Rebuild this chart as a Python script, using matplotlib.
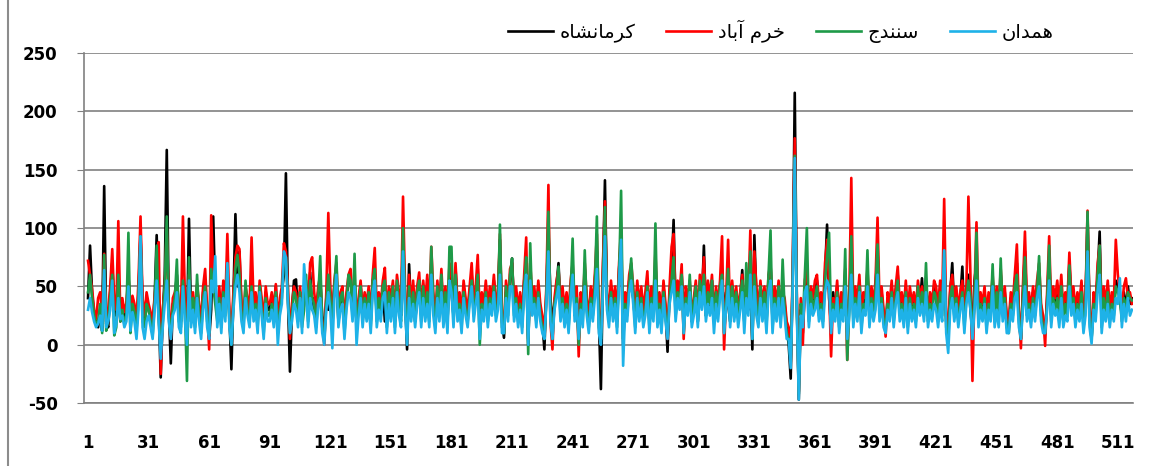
import matplotlib
matplotlib.use("Agg")
from matplotlib import pyplot as plt
from matplotlib.lines import Line2D

# legend labels, shaped by hand (Arabic presentation forms, visual order)
labels = {
    "kermanshah": "\uFEE9\uFE8E\uFEB8\uFEE7\uFE8E\uFEE3\uFEAE\uFEDB",   # کرمانشاه
    "khorramabad": "\uFEA9\uFE8E\uFE91\uFE81 \uFEE1\uFEAE\uFEA7",       # خرم آباد
    "sanandaj": "\uFE9D\uFEAA\uFEE8\uFEE8\uFEB3",                        # سنندج
    "hamedan": "\uFEE5\uFE8D\uFEAA\uFEE4\uFEEB",                         # همدان
}

x_ticks = list(range(1, 512, 30))
y_ticks = [-50, 0, 50, 100, 150, 200, 250]

kermanshah = [
    40, 85, 45, 25, 20, 15, 30, 12, 136, 20, 15, 45, 70, 30, 25, 50, 20, 35, 22, 30, 60, 25, 40, 30, 15, 45, 95, 35, 20, 40,
    30, 22, 15, 40, 94, 30, -28, 25, 60, 167, 30, -16, 35, 40, 60, 28, 20, 50, 35, 10, 108, 25, 40, 20, 50, 30, 15, 45, 55, 25,
    5, 30, 110, 45, 25, 40, 20, 50, 30, 60, 25, -21, 40, 112, 50, 80, 30, 20, 45, 35, 25, 60, 30, 40, 20, 50, 35, 15, 45, 30,
    30, 40, 25, 50, 15, 35, 45, 60, 147, 40, -23, 30, 55, 56, 25, 45, 20, 35, 50, 28, 62, 30, 40, 20, 45, 55, 25, 10, 40, 30,
    40, 25, 50, 60, 20, 35, 45, 15, 40, 55, 60, 30, 45, 20, 35, 50, 25, 40, 30, 45, 20, 55, 60, 25, 40, 30, 50, 20, 35, 45,
    30, 45, 20, 50, 35, 25, 90, 40, -4, 69, 30, 45, 20, 40, 55, 25, 45, 30, 50, 25, 70, 35, 20, 45, 30, 55, 25, 40, 20, 60,
    45, 25, 66, 30, 40, 20, 50, 35, 25, 45, 60, 30, 45, 65, 20, 40, 30, 50, 25, 45, 35, 55, 30, 40, 90, 20, 6, 45, 30, 55,
    74, 30, 45, 25, 40, 20, 55, 70, 0, 60, 35, 45, 25, 50, 30, 20, -4, 45, 100, 40, 20, 35, 50, 70, 30, 45, 25, 40, 20, 50,
    60, 30, 45, 5, 40, 25, 65, 35, 20, 45, 30, 55, 80, 20, -38, 60, 141, 40, 25, 50, 30, 45, 20, 65, 90, 0, 40, 30, 55, 50,
    40, 20, 50, 30, 45, 25, 35, 55, 20, 45, 30, 70, 25, 40, 20, 50, 30, -6, 45, 60, 107, 30, 50, 40, 60, 25, 45, 35, 50, 20,
    30, 45, 20, 50, 35, 85, 25, 45, 30, 55, 20, 40, 30, 50, 60, 25, 45, 35, 20, 50, 30, 45, 25, 40, 64, 20, 45, 30, 55, -4,
    94, 40, 25, 50, 30, 45, 20, 55, 70, 20, 45, 30, 50, 25, 40, 35, 15, 0, -29, 60, 216, 40, -47, 30, 10, 50, 60, 25, 45, 35,
    45, 55, 30, 40, 25, 60, 103, 40, 15, 45, 30, 50, 20, 40, 30, 60, 10, 35, 80, 25, 45, 30, 55, 20, 40, 35, 60, 25, 45, 30,
    50, 80, 30, 45, 25, 15, 40, 30, 50, 25, 45, 60, 30, 40, 25, 50, 20, 45, 30, 40, 25, 50, 35, 57, 30, 45, 25, 40, 30, 50,
    40, 25, 50, 30, 70, 20, 10, 45, 70, 30, 45, 25, 40, 67, 20, 45, 60, 30, 10, 55, 70, 25, 40, 30, 45, 20, 40, 30, 55, 25,
    40, 25, 60, 30, 45, 20, 15, 40, 30, 55, 70, 25, 5, 45, 80, 30, 40, 25, 45, 30, 50, 60, 30, 20, 10, 40, 75, 25, 45, 35,
    45, 30, 50, 25, 40, 30, 70, 35, 45, 25, 40, 30, 50, 20, 35, 110, 25, 5, 40, 30, 60, 97, 20, 45, 30, 50, 25, 40, 30, 55,
    50, 40, 25, 45, 30, 50, 35, 40,
]

khorramabad = [
    72, 60, 48, 30, 22, 40, 45, 28, 78, 18, 30, 50, 82, 35, 30, 106, 25, 40, 28, 36, 60, 30, 42, 35, 20, 55, 110, 40, 25, 45,
    35, 28, 20, 42, 60, 88, -25, 30, 50, 100, 35, 5, 40, 45, 55, 30, 25, 110, 40, 15, 60, 30, 45, 25, 52, 35, 20, 50, 65, 30,
    -4, 111, 60, 45, 30, 50, 25, 55, 35, 95, 30, 10, 45, 75, 85, 82, 35, 25, 50, 40, 30, 92, 35, 45, 25, 55, 40, 20, 50, 35,
    35, 45, 30, 52, 20, 40, 50, 87, 80, 50, 5, 35, 50, 45, 30, 50, 25, 40, 55, 30, 70, 75, 45, 30, 50, 60, 20, 0, 45, 113,
    50, 20, 55, 70, 25, 45, 50, 20, 45, 60, 65, 35, 55, 25, 40, 55, 30, 45, 35, 50, 25, 60, 83, 30, 45, 35, 55, 66, 25, 50,
    40, 55, 25, 60, 45, 30, 127, 50, 10, 60, 35, 55, 30, 50, 62, 30, 55, 35, 60, 30, 84, 45, 25, 55, 35, 65, 30, 50, 25, 70,
    60, 30, 70, 35, 45, 25, 55, 40, 30, 50, 70, 35, 50, 77, 25, 45, 35, 55, 30, 50, 40, 60, 35, 45, 95, 25, 15, 55, 35, 65,
    70, 35, 50, 30, 45, 25, 60, 92, 5, 70, 40, 50, 30, 55, 35, 25, 10, 50, 137, 20, -4, 40, 55, 65, 35, 50, 30, 45, 25, 55,
    70, 35, 50, -10, 45, 30, 70, 40, 25, 50, 35, 60, 95, 25, 10, 70, 123, 45, 30, 55, 35, 50, 25, 70, 100, 10, 45, 35, 60, 70,
    50, 25, 55, 35, 50, 30, 45, 63, 25, 50, 35, 80, 30, 45, 25, 55, 35, 5, 50, 84, 95, 35, 55, 45, 69, 5, 50, 40, 55, 25,
    40, 55, 25, 60, 45, 75, 35, 55, 40, 60, 25, 50, 35, 55, 93, -4, 40, 90, 25, 55, 35, 50, 30, 45, 60, 25, 50, 40, 98, 10,
    80, 50, 30, 55, 35, 50, 25, 60, 70, 25, 50, 35, 55, 30, 45, 40, 20, 15, -15, 65, 177, 45, -40, 40, 0, 55, 65, 30, 50, 40,
    55, 60, 35, 45, 30, 70, 90, 50, -10, 40, 35, 55, 25, 45, 35, 65, -13, 40, 143, 30, 50, 35, 60, 25, 45, 40, 65, 30, 50, 35,
    55, 109, 35, 50, 30, 7, 45, 35, 55, 30, 50, 67, 35, 45, 30, 55, 25, 50, 35, 45, 30, 55, 40, 50, 35, 50, 30, 45, 35, 55,
    50, 30, 55, 35, 125, 25, 15, 50, 60, 35, 50, 30, 45, 55, 25, 50, 127, 60, -31, 45, 105, 30, 45, 35, 50, 25, 45, 35, 60, 30,
    50, 30, 65, 35, 50, 25, 20, 45, 35, 60, 86, 30, -3, 50, 97, 35, 45, 30, 50, 35, 55, 70, 35, 25, -1, 45, 93, 30, 50, 40,
    55, 35, 60, 30, 45, 35, 79, 40, 50, 30, 45, 35, 55, 25, 40, 115, 30, 10, 45, 35, 70, 85, 25, 50, 35, 55, 30, 45, 35, 90,
    60, 45, 30, 50, 57, 40, 45, 35,
]

sanandaj = [
    45, 60, 40, 25, 18, 20, 35, 10, 77, 12, 22, 40, 60, 8, 15, 60, 20, 30, 18, 25, 96, 10, 35, 28, 12, 40, 93, 20, 15, 35,
    30, 20, 8, 35, 85, 25, -5, 20, 50, 110, 25, 10, 30, 40, 73, 20, 15, 55, 30, -31, 75, 20, 40, 15, 60, 25, 10, 40, 50, 20,
    10, 65, 50, 35, 20, 40, 15, 45, 25, 68, 20, 0, 35, 65, 77, 60, 25, 15, 55, 30, 20, 50, 25, 35, 15, 50, 30, 10, 40, 25,
    25, 35, 20, 45, 10, 30, 40, 75, 75, 40, 10, 25, 45, 40, 20, 45, 15, 30, 60, 20, 55, 40, 35, 15, 40, 76, 15, 5, 35, 60,
    40, 15, 50, 76, 20, 40, 45, 10, 35, 60, 55, 25, 78, 15, 30, 50, 20, 40, 25, 45, 15, 55, 65, 20, 40, 25, 50, 55, 15, 45,
    30, 50, 15, 55, 35, 20, 100, 40, 5, 50, 25, 45, 20, 45, 55, 20, 50, 25, 45, 20, 84, 35, 15, 50, 25, 60, 20, 45, 15, 84,
    84, 20, 60, 25, 35, 15, 45, 30, 20, 40, 55, 25, 40, 60, 0, 35, 25, 45, 20, 40, 30, 50, 25, 35, 103, 15, 10, 50, 25, 60,
    74, 25, 40, 20, 35, 15, 50, 75, -8, 87, 30, 40, 20, 45, 25, 15, 5, 40, 114, 30, 5, 35, 45, 67, 25, 40, 20, 35, 15, 45,
    91, 25, 40, 0, 35, 20, 81, 30, 15, 40, 25, 50, 110, 15, 5, 55, 118, 35, 20, 45, 25, 40, 15, 60, 132, 5, 35, 25, 50, 74,
    45, 15, 45, 25, 40, 20, 30, 50, 15, 40, 25, 104, 20, 35, 15, 45, 25, 10, 40, 55, 75, 25, 45, 35, 60, 10, 40, 30, 60, 20,
    35, 50, 20, 55, 40, 60, 25, 45, 35, 55, 20, 45, 30, 50, 60, 10, 35, 65, 20, 50, 30, 45, 25, 40, 55, 20, 70, 35, 80, 5,
    60, 35, 20, 50, 25, 45, 15, 60, 98, 15, 40, 25, 50, 20, 73, 30, 10, 5, -15, 55, 162, 35, -42, 35, 20, 60, 100, 20, 45, 30,
    40, 50, 25, 35, 20, 55, 75, 96, 20, 35, 25, 45, 15, 35, 25, 82, -13, 30, 93, 20, 40, 25, 50, 15, 35, 30, 81, 20, 40, 25,
    45, 86, 25, 40, 20, 15, 35, 25, 45, 20, 40, 55, 25, 35, 20, 45, 15, 40, 25, 35, 20, 50, 30, 45, 25, 70, 20, 35, 25, 45,
    40, 20, 45, 25, 80, 15, 5, 40, 50, 25, 40, 20, 35, 45, 15, 40, 55, 40, 10, 35, 96, 20, 35, 25, 40, 15, 35, 25, 69, 20,
    45, 20, 74, 25, 40, 15, 10, 35, 25, 50, 60, 20, 5, 40, 75, 25, 35, 20, 40, 25, 45, 76, 25, 15, 10, 35, 85, 20, 40, 30,
    40, 25, 50, 20, 35, 25, 68, 30, 40, 20, 35, 25, 45, 15, 30, 114, 20, 5, 35, 25, 60, 85, 15, 40, 25, 45, 20, 35, 25, 50,
    45, 40, 20, 40, 30, 45, 40, 38,
]

hamedan = [
    30, 40, 28, 20, 15, 18, 25, 12, 64, 15, 20, 30, 55, 10, 18, 40, 22, 25, 15, 20, 50, 12, 28, 20, 5, 30, 93, 15, 5, 20,
    25, 15, 5, 30, 55, 20, -12, 15, 35, 55, 20, 5, 25, 30, 45, 15, 10, 50, 20, 0, 55, 15, 30, 10, 40, 20, 5, 30, 45, 15,
    5, 55, 45, 76, 15, 35, 10, 40, 20, 70, 15, 0, 30, 50, 60, 45, 20, 10, 40, 25, 15, 45, 20, 30, 10, 45, 25, 5, 35, 20,
    20, 30, 15, 40, 0, 25, 35, 80, 75, 35, 10, 20, 35, 30, 15, 40, 10, 69, 45, 15, 40, 30, 25, 10, 35, 40, 10, 0, 30, 45,
    30, -3, 40, 60, 15, 30, 35, 5, 30, 45, 40, 20, 50, 0, 25, 40, 15, 35, 20, 35, 10, 45, 55, 15, 30, 20, 40, 45, 10, 35,
    20, 40, 10, 45, 25, 15, 80, 30, 0, 40, 20, 35, 15, 35, 45, 15, 40, 20, 35, 15, 60, 25, 10, 40, 20, 45, 15, 35, 10, 55,
    45, 15, 50, 20, 30, 10, 40, 25, 15, 35, 50, 20, 35, 45, 5, 30, 20, 40, 15, 35, 25, 45, 20, 30, 60, 10, 10, 40, 20, 50,
    50, 20, 35, 15, 30, 10, 45, 60, 0, 55, 25, 35, 15, 40, 20, 10, 5, 35, 80, 20, 5, 30, 40, 50, 20, 35, 15, 30, 10, 40,
    60, 20, 35, 5, 30, 15, 50, 25, 10, 35, 20, 40, 65, 10, 0, 45, 93, 30, 15, 40, 20, 35, 10, 55, 90, -18, 30, 20, 45, 55,
    35, 10, 40, 20, 35, 15, 25, 45, 10, 35, 20, 55, 15, 30, 10, 40, 20, 5, 35, 45, 55, 20, 40, 30, 50, 10, 35, 25, 45, 15,
    25, 40, 15, 45, 30, 50, 20, 35, 25, 40, 10, 35, 20, 40, 55, 10, 30, 50, 15, 40, 20, 35, 15, 30, 45, 10, 40, 25, 60, 5,
    50, 25, 15, 40, 20, 35, 10, 45, 55, 10, 35, 20, 40, 15, 40, 25, 5, 5, -20, 50, 160, 30, -47, 25, 15, 45, 50, 15, 35, 25,
    30, 40, 20, 30, 15, 45, 55, 50, 10, 30, 20, 40, 10, 30, 20, 50, 5, 25, 60, 15, 35, 20, 45, 10, 30, 25, 50, 15, 35, 20,
    30, 60, 20, 35, 15, 10, 30, 20, 40, 15, 35, 45, 20, 30, 15, 40, 10, 35, 20, 30, 15, 40, 25, 35, 20, 45, 15, 30, 20, 35,
    30, 15, 35, 20, 81, 10, -7, 30, 40, 20, 35, 15, 30, 40, 10, 35, 45, 30, 5, 30, 55, 15, 30, 20, 35, 10, 30, 20, 50, 15,
    30, 15, 45, 20, 35, 10, 10, 30, 20, 40, 45, 15, 5, 30, 50, 20, 30, 15, 35, 20, 40, 50, 20, 10, 10, 30, 55, 15, 35, 25,
    30, 15, 40, 15, 25, 20, 50, 25, 35, 15, 30, 20, 35, 10, 25, 80, 15, 1, 30, 20, 45, 60, 10, 30, 20, 35, 15, 30, 20, 40,
    35, 57, 15, 35, 20, 40, 25, 30,
]

series = [
    (kermanshah, "#000000", labels["kermanshah"]),
    (khorramabad, "#FF0000", labels["khorramabad"]),
    (sanandaj, "#1E9A48", labels["sanandaj"]),
    (hamedan, "#1EB2E8", labels["hamedan"]),
]

plt.rcParams["font.family"] = ["DejaVu Sans"]
plt.rcParams["axes.unicode_minus"] = False

fig = plt.figure(figsize=(11.6, 4.66), dpi=100)
ax = fig.add_axes([0.0724, 0.135, 0.9043, 0.751])

handles = []
for values, color, label in series:
    xs = range(1, len(values) + 1)
    line, = ax.plot(xs, values, color=color, lw=1.9, label=label, solid_joinstyle="round")
    handles.append(line)

ax.set_xlim(-1, 518.5)
ax.set_ylim(-50, 250)
ax.set_yticks(y_ticks)
ax.set_xticks(x_ticks)
ax.yaxis.grid(True, color="#808080", lw=1.2)
ax.set_axisbelow(True)

for side in ("top", "right"):
    ax.spines[side].set_visible(False)
for side in ("left", "bottom"):
    ax.spines[side].set_color("#808080")
    ax.spines[side].set_linewidth(1.2)

ax.tick_params(axis="y", length=5, color="#808080", pad=14, labelsize=12)
ax.tick_params(axis="x", length=0, pad=22, labelsize=12)
for lbl in ax.get_xticklabels() + ax.get_yticklabels():
    lbl.set_fontweight("bold")

fig.legend(handles=handles, loc="center", bbox_to_anchor=(0.673, 0.932), ncol=4,
           frameon=False, fontsize=14, handlelength=2.3, columnspacing=1.6,
           handletextpad=0.35)

# chart area border at the left
fig.add_artist(Line2D([0.007, 0.007], [0, 1], transform=fig.transFigure,
                      color="#8c8c8c", lw=1.5))

fig.savefig("out.png", dpi=100)
